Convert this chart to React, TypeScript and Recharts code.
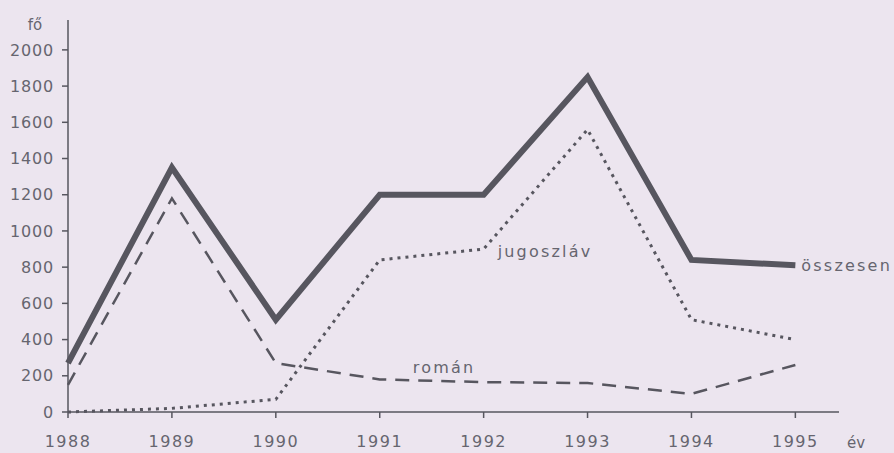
import { LineChart, Line, XAxis, YAxis, LabelList, Label } from "recharts";

const years = [1988, 1989, 1990, 1991, 1992, 1993, 1994, 1995];
const osszesen = [270, 1350, 510, 1200, 1200, 1850, 840, 810];
const jugoszlav = [0, 20, 70, 840, 900, 1560, 510, 400];
const roman = [150, 1180, 270, 180, 165, 160, 100, 260];
const yTicks = [0, 200, 400, 600, 800, 1000, 1200, 1400, 1600, 1800, 2000];

const data = years.map((year, i) => ({
    year,
    osszesen: osszesen[i],
    jugoszlav: jugoszlav[i],
    roman: roman[i],
}));

const ink = "#57565f";
const textInk = "#66656f";
const font = "DejaVu Sans";

// places a series name next to one of its points
const seriesLabel = (text: string, at: number, dx: number, dy: number) => (props: any) => {
    if (props.index !== at) return null;
    return (
        <text
            x={props.x + dx}
            y={props.y + dy}
            fill={textInk}
            fontFamily={font}
            fontSize={16}
            letterSpacing={2.2}
            dominantBaseline="middle"
        >
            {text}
        </text>
    );
};

export default function App() {
    return (
        <div style={{ position: "absolute", left: 0, top: 0, width: 894, height: 453, background: "#ece5ef" }}>
            <LineChart width={894} height={453} data={data} margin={{ top: 20, right: 55, left: 0, bottom: 0 }}>
                <XAxis
                    dataKey="year"
                    type="number"
                    domain={[1988, 1995.42]}
                    ticks={years}
                    height={41}
                    stroke={ink}
                    strokeWidth={1.5}
                    tickSize={6}
                    tickMargin={18}
                    tick={{ fill: textInk, fontFamily: font, fontSize: 16, letterSpacing: 1.5 }}
                >
                    <Label
                        content={(p: any) => (
                            <text x={p.viewBox.x + p.viewBox.width + 8} y={443} fill={textInk} fontFamily={font} fontSize={15} dominantBaseline="middle">
                                év
                            </text>
                        )}
                    />
                </XAxis>
                <YAxis
                    type="number"
                    domain={[0, 2165]}
                    ticks={yTicks}
                    width={68}
                    stroke={ink}
                    strokeWidth={1.5}
                    tickSize={6}
                    tickMargin={8}
                    tick={{ fill: textInk, fontFamily: font, fontSize: 16, letterSpacing: 0.8 }}
                >
                    <Label
                        content={() => (
                            <text x={35} y={25} fill={textInk} fontFamily={font} fontSize={15} textAnchor="middle" dominantBaseline="middle">
                                fő
                            </text>
                        )}
                    />
                </YAxis>
                <Line type="linear" dataKey="roman" stroke={ink} strokeWidth={2.5} strokeDasharray="14 9" dot={false} isAnimationActive={false}>
                    <LabelList content={seriesLabel("román", 3, 33, -11)} />
                </Line>
                <Line type="linear" dataKey="jugoszlav" stroke={ink} strokeWidth={3} strokeDasharray="3 5" dot={false} isAnimationActive={false}>
                    <LabelList content={seriesLabel("jugoszláv", 4, 14, 3)} />
                </Line>
                <Line type="linear" dataKey="osszesen" stroke={ink} strokeWidth={6} dot={false} isAnimationActive={false}>
                    <LabelList content={seriesLabel("összesen", 7, 6, 1)} />
                </Line>
            </LineChart>
        </div>
    );
}
